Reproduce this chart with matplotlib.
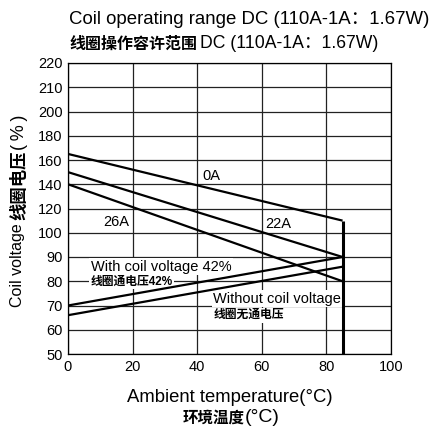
import numpy as np
from matplotlib import pyplot as plt

plt.rcParams['font.family'] = ['Liberation Sans', 'Noto Sans CJK SC', 'DejaVu Sans']

# eje y no uniforme: cada marca ocupa el mismo espacio
y_ticks = [50, 60, 70, 80, 90, 100, 120, 140, 160, 180, 200, 210, 220]
x_ticks = [0, 20, 40, 60, 80, 100]

# curvas (temperatura, tension %)
temp = [0, 85]
v_0A = [165, 110]
v_22A = [150, 90]
v_26A = [140, 80]
v_with = [70, 90]
v_without = [66, 86]
t_limit = 85
v_limit = [110, 50]


def pos(v):
    return np.interp(v, y_ticks, np.arange(len(y_ticks)))


fig = plt.figure(figsize=(4.32, 4.29), dpi=100)
ax = fig.add_axes([68/432, 1-354/429, (391-68)/432, (354-63)/429])

ax.set_xlim(0, 100)
ax.set_ylim(0, len(y_ticks)-1)
ax.set_xticks(x_ticks)
ax.set_yticks(np.arange(len(y_ticks)))
ax.set_yticklabels([str(t) for t in y_ticks])
ax.tick_params(length=0, labelsize=10.5, pad=4)
ax.grid(True, color='#222222', linewidth=0.9)
ax.set_axisbelow(True)
for s in ax.spines.values():
    s.set_linewidth(0.9)

for v in [v_0A, v_22A, v_26A, v_with, v_without]:
    ax.plot(temp, pos(v), color='black', lw=1.6, solid_capstyle='butt', zorder=3)
ax.plot([t_limit, t_limit], pos(v_limit), color='black', lw=2.2, solid_capstyle='butt', zorder=3)

box = dict(facecolor='white', edgecolor='none', pad=1)
ax.text(41.5, pos(146.5), '0A', fontsize=10.5, ha='left', va='center')
ax.text(11, pos(109), '26A', fontsize=10.5, ha='left', va='center')
ax.text(61, pos(107), '22A', fontsize=10.5, ha='left', va='center')
ax.text(7, pos(86), 'With coil voltage 42%', fontsize=10.5, ha='left', va='center', bbox=box, zorder=2)
ax.text(7, pos(80), '线圈通电压42%', fontsize=8.5, fontweight='bold', ha='left', va='center', bbox=box, zorder=2)
ax.text(45, pos(72.8), 'Without coil voltage', fontsize=10.5, ha='left', va='center', bbox=box, zorder=2)
ax.text(45, pos(66), '线圈无通电压', fontsize=8.5, fontweight='bold', ha='left', va='center', bbox=box, zorder=2)

# titulos
fig.text(69/432, 1-20/429, 'Coil operating range DC (110A-1A：1.67W)', fontsize=13.4, ha='left', va='center')
fig.text(69/432, 1-44/429, '线圈操作容许范围', fontsize=11.5, fontweight='bold', ha='left', va='center')
fig.text(200/432, 1-44/429, 'DC (110A-1A：1.67W)', fontsize=12.7, ha='left', va='center')

# etiqueta eje x
fig.text(230/432, 1-398/429, 'Ambient temperature(°C)', fontsize=13.3, ha='center', va='center')
fig.text(245/432, 1-418/429, '环境温度', fontsize=11.2, fontweight='bold', ha='right', va='center')
fig.text(245/432, 1-418/429, '(°C)', fontsize=14, ha='left', va='center')

# etiqueta eje y
fig.text(18/432, 1-307/429, 'Coil voltage', fontsize=11.5, rotation=90, ha='center', va='bottom')
fig.text(19/432, 1-220/429, '线圈电压', fontsize=12.5, fontweight='bold', rotation=90, ha='center', va='bottom')
fig.text(19/432, 1-150/429, '(\u2009%\u2009)', fontsize=13, rotation=90, ha='center', va='bottom')

fig.savefig('out.png', dpi=100)
